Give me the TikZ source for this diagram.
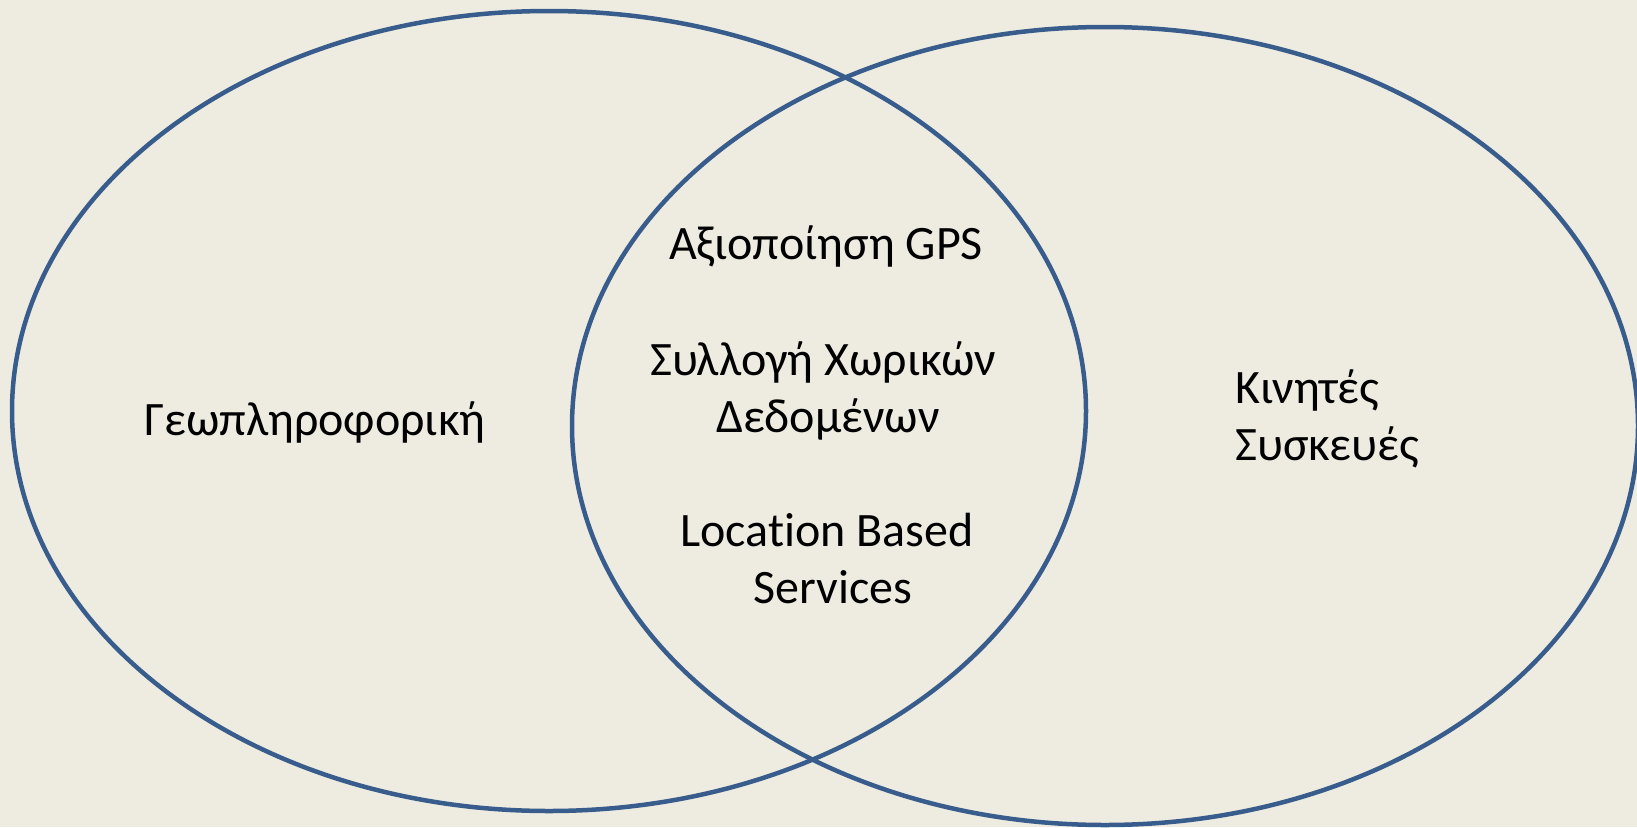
\documentclass[tikz,border=0pt]{standalone}
\usepackage{fontspec}
\setmainfont[Ligatures={NoCommon}]{Carlito}
\definecolor{bgc}{RGB}{238,236,225}
\definecolor{linec}{RGB}{56,93,140}
\begin{document}
\begin{tikzpicture}[x=1pt,y=-1pt,
  setring/.style={draw=linec,line width=4.5pt},
  lbl/.style={inner sep=0pt,font=\fontsize{48}{57}\selectfont,text=black}]
\fill[bgc] (0,0) rectangle (1637,827);
\useasboundingbox (0,0) rectangle (1637,827);
\draw[setring] (549,411) ellipse [x radius=537pt, y radius=400pt];
\draw[setring] (1105,426) ellipse [x radius=533pt, y radius=399pt];
\node[lbl,anchor=base] (gps) at (826,259) {Αξιοποίηση GPS};
\node[lbl,anchor=base,align=center] (syl) at (823,432) {Συλλογή Χωρικών\\\hspace*{10pt}Δεδομένων};
\node[lbl,anchor=base,align=center] (lbs) at (827,603) {Location Based\\\hspace*{12pt}Services};
\node[lbl,anchor=base] (geo) at (315,435) {Γεωπληροφορική};
\node[lbl,anchor=base west,align=left] (kin) at (1235,460) {Κινητές\\Συσκευές};
\end{tikzpicture}
\end{document}
